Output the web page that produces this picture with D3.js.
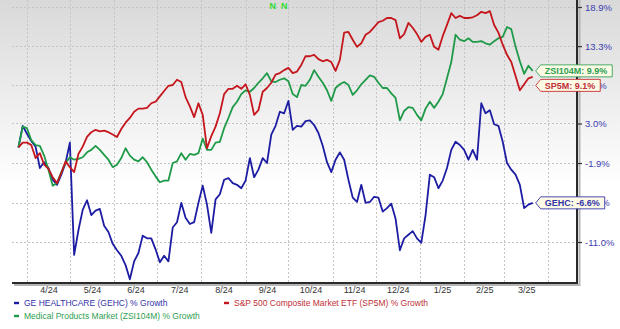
<!DOCTYPE html>
<html><head><meta charset="utf-8">
<script src="https://cdn.jsdelivr.net/npm/d3@7"></script>
<style>body{margin:0;background:#fff}svg{display:block}</style>
</head><body>
<svg id="chart" width="620" height="329"></svg>
<script>
// ---- data ----
const startDate = "2024-03-26";
const stepDays = 3;
const gehc = [0.0,2.7,1.7,0.8,0.1,-2.5,-1.8,-2.5,-3.9,-4.5,-3.3,-1.9,0.6,-12.4,-9.7,-7.4,-6.3,-8.0,-7.5,-7.3,
  -9.2,-9.9,-11.2,-11.9,-12.5,-13.5,-15.0,-13.1,-12.2,-10.3,-10.6,-10.6,-11.8,-13.2,-12.5,-13.1,-9.4,-8.8,-6.6,-8.3,
  -9.0,-8.8,-6.6,-4.6,-6.8,-10.0,-6.2,-5.6,-3.9,-3.7,-4.3,-4.5,-4.9,-4.0,-1.3,-3.6,-2.7,-1.3,-1.9,1.6,
  2.7,4.5,4.3,5.9,2.2,2.7,2.6,3.3,3.4,2.8,1.8,0.2,-1.8,-3.0,-1.5,-0.6,-1.5,-3.9,-6.0,-6.5,
  -4.5,-6.6,-6.5,-5.9,-6.0,-7.6,-7.2,-6.7,-8.4,-11.9,-10.6,-10.2,-9.8,-10.6,-11.1,-8.0,-3.3,-3.6,-4.9,-4.0,
  -2.5,-0.3,0.7,0.3,-0.3,-1.5,-0.3,-1.5,5.6,4.3,4.7,2.9,2.7,0.7,-1.9,-2.7,-3.3,-4.5,-7.2,-6.8,-6.6];
const sp5m = [0.0,0.6,0.6,0.3,-1.3,-0.7,-2.1,-2.6,-3.6,-4.3,-3.1,-1.7,-2.4,-3.0,-0.8,0.1,1.3,1.9,2.2,2.0,
  2.1,1.9,1.6,1.3,2.3,3.1,3.7,4.5,4.9,4.9,5.0,5.6,5.8,6.5,7.2,7.9,8.0,8.7,8.4,6.4,
  5.2,3.8,5.6,4.1,-0.1,1.4,2.6,4.3,6.8,7.5,7.5,7.9,7.5,8.1,6.7,4.1,4.7,7.1,7.6,8.3,
  9.4,9.6,10.0,10.3,9.6,9.8,10.7,11.9,11.9,12.1,11.5,11.2,11.4,11.1,9.9,11.4,15.2,15.3,14.2,13.2,
  13.7,14.9,15.3,16.0,16.7,16.9,17.3,17.3,17.0,14.4,15.0,16.6,15.9,15.0,13.9,14.6,14.9,13.2,12.8,14.7,
  16.3,18.0,17.3,17.6,17.3,17.3,17.4,17.7,18.2,18.0,18.3,16.3,15.2,13.5,12.1,11.1,9.2,7.3,8.1,8.9,9.1];
const zsi104m = [0.0,2.6,2.4,0.9,0.3,0.2,-1.0,-2.7,-4.6,-4.3,-3.0,-1.9,-1.2,-1.5,-1.4,-1.2,-0.6,-0.3,0.2,-0.3,
  -0.9,-1.5,-2.4,-2.1,-1.3,-0.1,-1.0,-1.5,-1.7,-1.2,-1.8,-2.7,-3.5,-4.2,-4.0,-4.0,-1.9,-1.7,-0.7,-1.5,
  -0.8,-0.9,-0.7,1.1,-0.3,-0.3,0.6,0.7,2.4,3.7,5.1,5.8,6.8,7.3,7.1,7.6,8.3,8.9,9.6,8.5,
  8.4,8.7,8.9,8.5,6.8,6.4,8.0,7.9,8.7,10.0,9.1,8.3,7.3,5.9,7.6,8.1,8.4,8.0,6.7,7.3,
  8.1,8.7,9.3,9.1,8.3,7.6,7.6,6.9,6.3,3.4,4.6,5.1,5.0,4.1,3.4,4.9,5.8,5.0,5.8,6.8,
  8.9,11.1,14.9,14.2,14.0,14.4,13.9,13.9,14.0,13.7,13.5,14.0,14.4,14.6,16.0,15.7,13.2,11.2,9.5,10.6,9.9];
const monthLabels = ["4/24","5/24","6/24","7/24","8/24","9/24","10/24","11/24","12/24","1/25","2/25","3/25"];
const yTicks = [18.9, 13.3, 8.0, 3.0, -1.9, -6.6, -11.0];
const newsDates = ["2024-09-20","2024-09-28"];
const seriesNames = ["GEHC","SP5M","ZSI104M"];
const legendNames = ["GE HEALTHCARE (GEHC) % Growth","S&P 500 Composite Market ETF (SP5M) % Growth","Medical Products Market (ZSI104M) % Growth"];
const endValues = [-6.6, 9.1, 9.9];

// ---- drawing ----
const svg = d3.select("#chart");
const W = 620, H = 329;
const L = 12, R = 577, T = 0, B = 283;
const colors = {GEHC:"#1d1da3", SP5M:"#c4161c", ZSI104M:"#1f9a48"};
const textColors = {GEHC:"#3434a8", SP5M:"#c03036", ZSI104M:"#2f9e52"};
const font = "'Liberation Sans', Arial, sans-serif";

const defs = svg.append("defs");
const grad = defs.append("linearGradient").attr("id","bg").attr("gradientUnits","userSpaceOnUse")
  .attr("x1",0).attr("y1",0).attr("x2",0).attr("y2",185);
grad.append("stop").attr("offset",0).attr("stop-color","#d9d9d9");
grad.append("stop").attr("offset",1).attr("stop-color","#ffffff");
svg.append("rect").attr("width",W).attr("height",H).attr("fill","#fff");
svg.append("rect").attr("width",W).attr("height",185).attr("fill","url(#bg)");

const parse = d3.timeParse("%Y-%m-%d");
const t0 = parse(startDate);
const dates = gehc.map((_, i) => d3.timeDay.offset(t0, i * stepDays));

const x = d3.scaleTime().domain([new Date(2024,2,21,12), new Date(2025,3,21)]).range([L, R]);
const y = d3.scaleLog().domain([0.89, 1.189]).range([242, 7]);
const yv = v => y(1 + v / 100);

// grid
const monthStarts = d3.timeMonth.range(new Date(2024,3,1), new Date(2025,3,2));
const grid = svg.append("g").attr("stroke","#c4c4c4").attr("stroke-dasharray","2,2").attr("stroke-width",1);
monthStarts.forEach(d => {
  const xx = Math.round(x(d)) + 0.5;
  grid.append("line").attr("x1",xx).attr("x2",xx).attr("y1",T).attr("y2",B);
});
yTicks.forEach(v => {
  const yy = Math.round(yv(v)) + 0.5;
  grid.append("line").attr("x1",L).attr("x2",R).attr("y1",yy).attr("y2",yy);
});

// lines
const series = [
  {name:"GEHC", values:gehc},
  {name:"SP5M", values:sp5m},
  {name:"ZSI104M", values:zsi104m}
];
const line = d3.line().x((d,i) => x(dates[i])).y(d => yv(d));
[series[0], series[2], series[1]].forEach(s => {
  svg.append("path").datum(s.values).attr("d", line).attr("fill","none")
    .attr("stroke", colors[s.name]).attr("stroke-width",1.8).attr("stroke-linejoin","round");
});

// axes lines with shadow
svg.append("line").attr("x1",L+2).attr("x2",R+3).attr("y1",B+2).attr("y2",B+2).attr("stroke","#b5b5b5").attr("stroke-width",2);
svg.append("line").attr("x1",R+2.5).attr("x2",R+2.5).attr("y1",T).attr("y2",B+3).attr("stroke","#b5b5b5").attr("stroke-width",2);
svg.append("line").attr("x1",L).attr("x2",R+1).attr("y1",B).attr("y2",B).attr("stroke","#2a2a2a").attr("stroke-width",2);
svg.append("line").attr("x1",R).attr("x2",R).attr("y1",T).attr("y2",B+1).attr("stroke","#2a2a2a").attr("stroke-width",2);

// right axis
const yAxis = d3.axisRight(y).tickValues(yTicks.map(v => 1 + v/100))
  .tickFormat((d,i) => yTicks[i].toFixed(1) + "%").tickSize(5).tickPadding(3).tickSizeOuter(0);
const ga = svg.append("g").attr("transform",`translate(${R},0)`).call(yAxis);
ga.select(".domain").remove();
ga.selectAll(".tick line").attr("stroke","#333").attr("stroke-width",1.2);
ga.selectAll(".tick text").attr("fill","#3c3cae").style("font-family",font).style("font-size","9.5px");

// bottom axis labels at mid-month
const mids = monthLabels.map((_, i) => new Date((+monthStarts[i] + +monthStarts[i+1]) / 2));
const xAxis = d3.axisBottom(x).tickValues(mids).tickFormat((d,i) => monthLabels[i]).tickSize(0).tickPadding(4);
const gx = svg.append("g").attr("transform",`translate(0,${B})`).call(xAxis);
gx.select(".domain").remove();
gx.selectAll(".tick text").attr("fill","#333").style("font-family",font).style("font-size","9px");

// news markers
newsDates.forEach(ds => {
  svg.append("text").attr("x", x(parse(ds))).attr("y", 9).attr("text-anchor","middle")
    .attr("fill","#2fdc2f").style("font-family",font).style("font-size","9px").style("font-weight","bold").text("N");
});

// end labels
const ends = series.map((s, i) => ({name:s.name, v:endValues[i], x:x(dates[dates.length-1]), y:yv(endValues[i])}));
ends.sort((a,b) => a.y - b.y);
ends[0].ly = ends[0].y;
for (let i = 1; i < ends.length; i++) ends[i].ly = Math.max(ends[i].y, ends[i-1].ly + 14.5);
ends.forEach(e => {
  const g = svg.append("g");
  const tip = e.x + 3, bodyL = tip + 5, h = 12;
  const txt = g.append("text").attr("x", bodyL + 4).attr("y", e.ly + 3.4)
    .attr("fill", textColors[e.name]).style("font-family",font).style("font-size","9px").style("font-weight","bold")
    .text(`${e.name}: ${e.v.toFixed(1)}%`);
  const w = txt.node().getComputedTextLength();
  const bodyR = bodyL + 4 + w + 5;
  g.insert("path","text").attr("d", `M${tip},${e.ly} L${bodyL},${e.ly-h/2} L${bodyR},${e.ly-h/2} L${bodyR},${e.ly+h/2} L${bodyL},${e.ly+h/2} Z`)
    .attr("fill","#fdfbe6").attr("stroke", colors[e.name]).attr("stroke-width",1).attr("stroke-opacity",0.8);
});

// legend
const legPos = [[14,303],[224,303],[14,316]];
series.forEach((s, i) => {
  const [lx, ly] = legPos[i];
  svg.append("rect").attr("x", lx).attr("y", ly - 1.2).attr("width",5).attr("height",2.4).attr("fill", colors[s.name]);
  svg.append("text").attr("x", lx + 10).attr("y", ly + 3.2).attr("fill", textColors[s.name])
    .style("font-family",font).style("font-size","8.5px").text(legendNames[i]);
});
</script>
</body></html>
